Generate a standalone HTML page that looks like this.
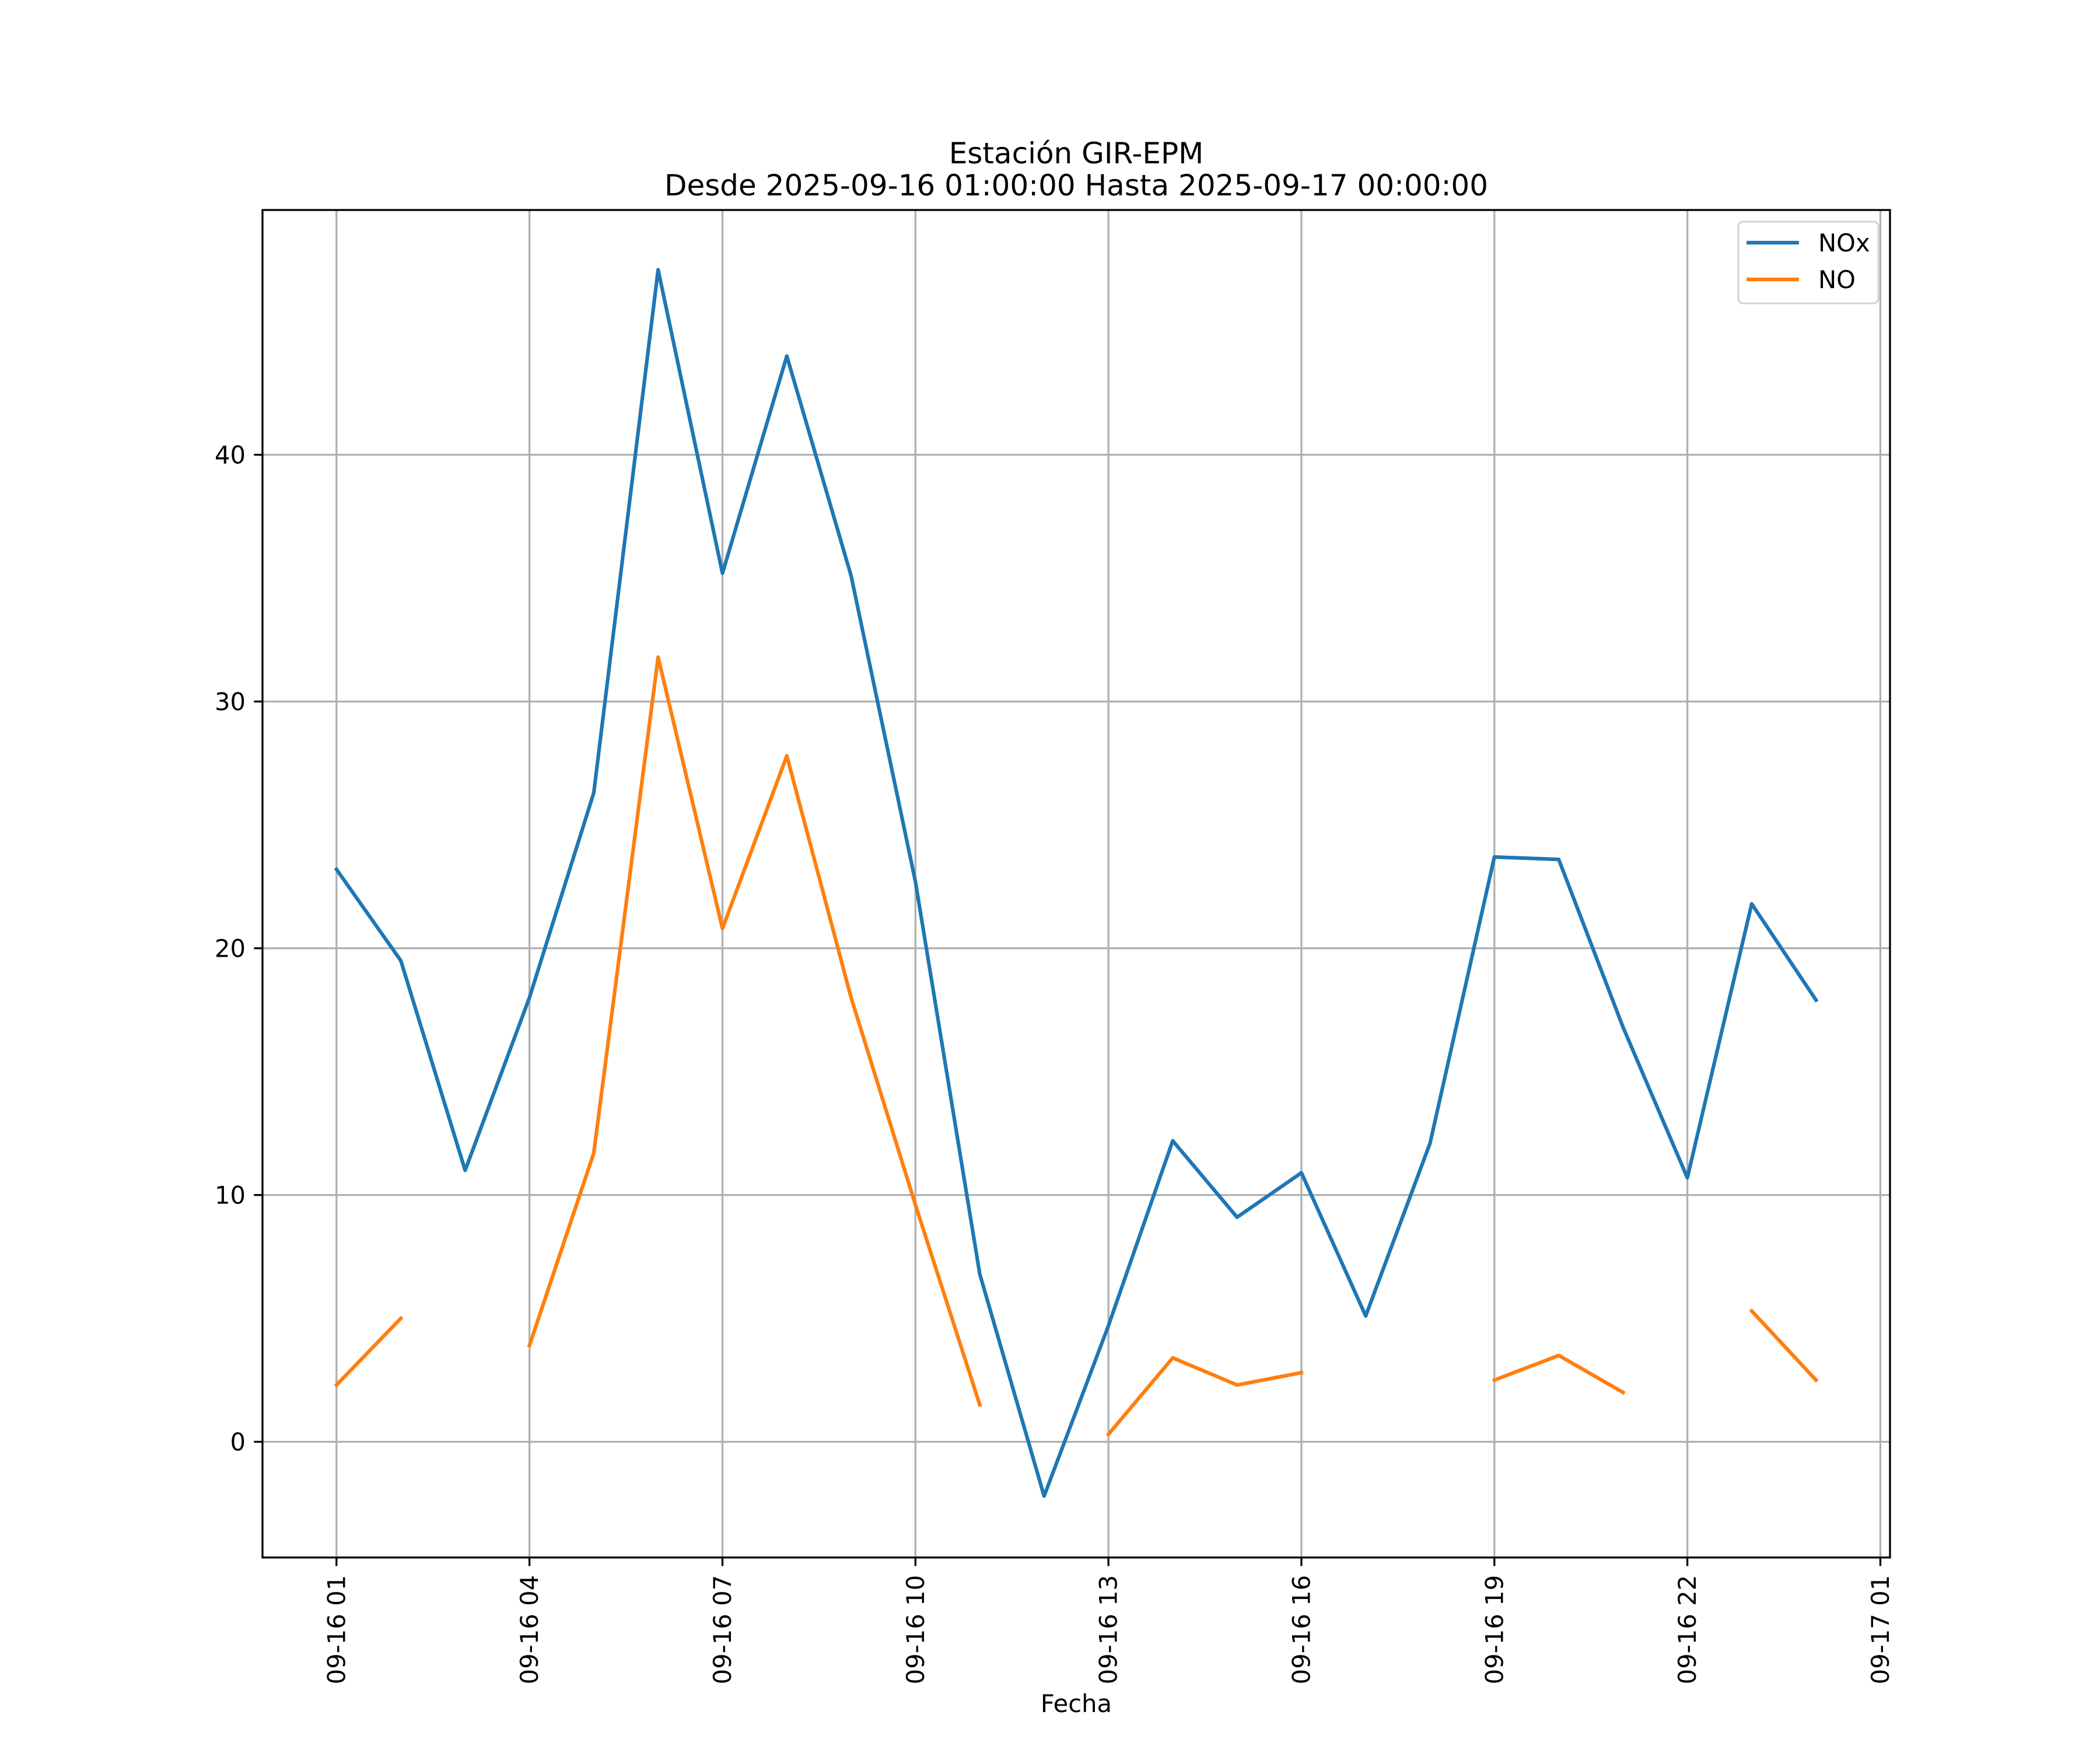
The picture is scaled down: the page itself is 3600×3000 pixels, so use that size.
<!DOCTYPE html>
<html><head><meta charset="utf-8"><style>
html,body{margin:0;padding:0;background:#fff;}
svg{display:block;font-family:"DejaVu Sans","Liberation Sans",sans-serif;}
</style></head><body>
<svg id="chart" width="3600" height="3000" viewBox="0 0 3600 3000" xmlns="http://www.w3.org/2000/svg">
<rect width="3600" height="3000" fill="#fff"/>
<text x="1845" y="280" font-size="50" text-anchor="middle">Estación GIR-EPM</text>
<text x="1845" y="335" font-size="50" text-anchor="middle">Desde 2025-09-16 01:00:00 Hasta 2025-09-17 00:00:00</text>
<g id="grid"></g>
<g id="series"></g>
<rect x="450" y="360" width="2790" height="2310" fill="none" stroke="#000" stroke-width="3.3"/>
<g id="ticks"></g>
<text x="1845" y="2935" font-size="41.7" text-anchor="middle">Fecha</text>
<g>
<rect x="2980" y="380" width="240" height="140" rx="8" fill="#fff" fill-opacity="0.8" stroke="#d6d6d6" stroke-width="3.3"/>
<line x1="2994" y1="416" x2="3084" y2="416" stroke="#1f77b4" stroke-width="6.25"/>
<text x="3117" y="431" font-size="41.7">NOx</text>
<line x1="2994" y1="479" x2="3084" y2="479" stroke="#ff7f0e" stroke-width="6.25"/>
<text x="3117" y="494" font-size="41.7">NO</text>
</g>
</svg>
<script>
const hours = [1,2,3,4,5,6,7,8,9,10,11,12,13,14,15,16,17,18,19,20,21,22,23,24];
const noxValues = [23.2,19.5,11.0,18.0,26.3,47.5,35.2,44.0,35.1,22.7,6.8,-2.2,4.7,12.2,9.1,10.9,5.1,12.1,23.7,23.6,16.8,10.7,21.8,17.9];
const noValues = [2.3,5.0,null,3.9,11.7,31.8,20.8,27.8,18.0,9.6,1.5,null,0.3,3.4,2.3,2.8,null,null,2.5,3.5,2.0,null,5.3,2.5];
const xTickHours = [1,4,7,10,13,16,19,22,25];
const xTickLabels = ["09-16 01","09-16 04","09-16 07","09-16 10","09-16 13","09-16 16","09-16 19","09-16 22","09-17 01"];
const yTicks = [0,10,20,30,40];

const NS = "http://www.w3.org/2000/svg";
const L=450,R=3240,T=360,B=2670;
const xMin=1-23*0.05, xMax=24+23*0.05;
const yMin=-4.69, yMax=49.92;
function xs(h){return L+(h-xMin)/(xMax-xMin)*(R-L);}
function ys(v){return B-(v-yMin)/(yMax-yMin)*(B-T);}
function mk(tag,attrs,parent){const e=document.createElementNS(NS,tag);for(const k in attrs)e.setAttribute(k,attrs[k]);parent.appendChild(e);return e;}
const grid=document.getElementById('grid'), ticks=document.getElementById('ticks'), series=document.getElementById('series');

xTickHours.forEach((h,i)=>{
  const x=xs(h);
  const g=mk('line',{x1:x,y1:T,x2:x,y2:B,stroke:'#b0b0b0','stroke-width':3.3},grid);
  
  
  const t=mk('line',{x1:x,y1:B,x2:x,y2:B+14.6,stroke:'#000','stroke-width':3.3},ticks);
  
  
  const lb=mk('text',{x:0,y:0,'font-size':41.7,'text-anchor':'end','dominant-baseline':'central',transform:`translate(${x},${B+30}) rotate(-90)`},ticks);
  lb.textContent=xTickLabels[i];
  
  
});
yTicks.forEach(v=>{
  const y=ys(v);
  const g=mk('line',{x1:L,y1:y,x2:R,y2:y,stroke:'#b0b0b0','stroke-width':3.3},grid);
  
  
  const t=mk('line',{x1:L-14.6,y1:y,x2:L,y2:y,stroke:'#000','stroke-width':3.3},ticks);
  
  
  const lb=mk('text',{x:L-29,y:y+15,'font-size':41.7,'text-anchor':'end'},ticks);
  lb.textContent=String(v);
  
  
});
function drawSeries(vals,color,name){
  let d='',pen=false;
  vals.forEach((v,i)=>{
    if(v===null){pen=false;return;}
    d+=(pen?'L':'M')+xs(hours[i]).toFixed(1)+' '+ys(v).toFixed(1)+' ';
    pen=true;
  });
  const p=mk('path',{d:d,fill:'none',stroke:color,'stroke-width':6.25,'stroke-linejoin':'round','stroke-linecap':'square'},series);
  
  
}
drawSeries(noxValues,'#1f77b4','nox-line');
drawSeries(noValues,'#ff7f0e','no-line');
</script>
</body></html>
